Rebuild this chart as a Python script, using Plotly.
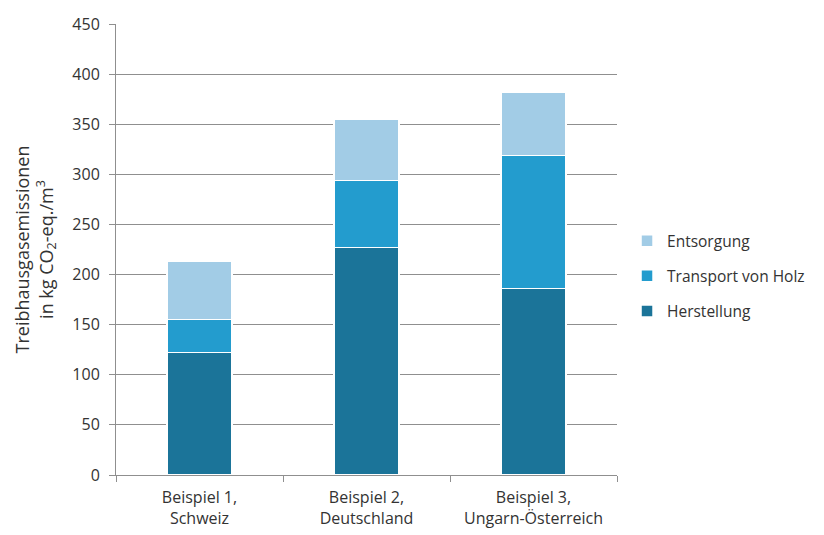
import plotly.graph_objects as go

categories = ["Beispiel 1,<br>Schweiz", "Beispiel 2,<br>Deutschland", "Beispiel 3,<br>Ungarn-Österreich"]
herstellung = [122, 227, 186]
transport = [33, 67, 133]
entsorgung = [58, 61, 63]

series = [
    ("Herstellung", herstellung, "#1b7499", 3),
    ("Transport von Holz", transport, "#239cce", 2),
    ("Entsorgung", entsorgung, "#a2cce6", 1),
]

fig = go.Figure()
for name, vals, col, rank in series:
    fig.add_trace(go.Bar(
        x=categories, y=vals, name=name, legendgroup=name, legendrank=rank,
        marker=dict(color=col, line=dict(color="white", width=1.5)),
        width=0.39,
    ))

font_col = "#333333"
grid_col = "#8f8f8f"
fam = "'Open Sans', sans-serif"
fig.update_layout(
    barmode="stack",
    width=824, height=535,
    margin=dict(l=116, r=207, t=24, b=60, autoexpand=False),
    plot_bgcolor="white", paper_bgcolor="white",
    font=dict(family=fam, size=16, color=font_col),
    legend=dict(x=1.02, y=0.441, xanchor="left", yanchor="middle",
                traceorder="grouped", tracegroupgap=12, itemwidth=30,
                font=dict(size=15.5, color=font_col)),
    xaxis=dict(showline=True, linecolor=grid_col, linewidth=1,
               ticks="outside", tickson="boundaries", ticklen=6, tickcolor=grid_col,
               showgrid=False, tickfont=dict(size=16), ticklabelstandoff=8),
    yaxis=dict(range=[0, 450], dtick=50, showline=True, linecolor=grid_col, linewidth=1,
               ticks="outside", ticklen=6, tickcolor=grid_col,
               showgrid=True, gridcolor=grid_col, gridwidth=1,
               zeroline=False, tickfont=dict(size=16), ticklabelstandoff=6,
               title=dict(text="Treibhausgasemissionen<br>in kg CO<sub>2</sub>-eq./m<sup>3</sup>",
                          font=dict(size=18), standoff=14)),
    bargap=0.61,
)

fig.write_html("out.html")
